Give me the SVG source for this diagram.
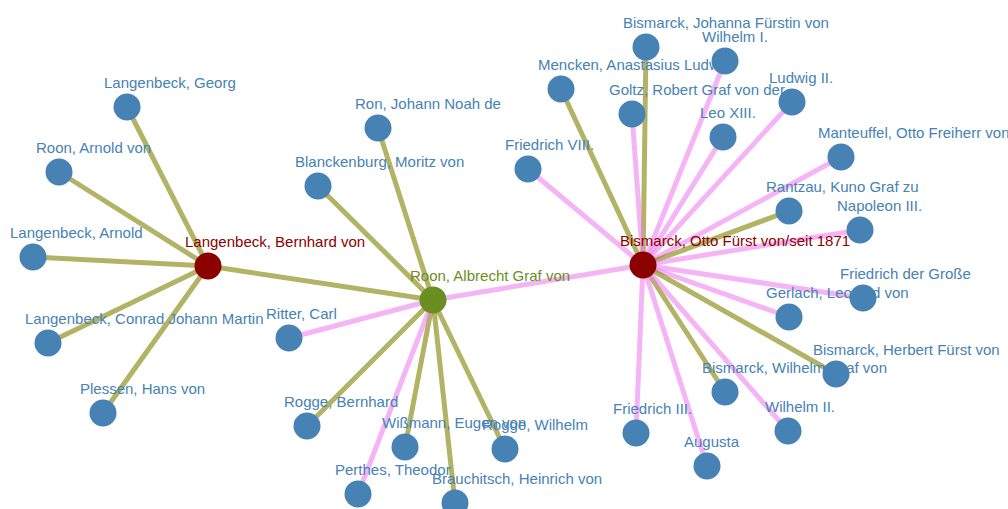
<svg xmlns="http://www.w3.org/2000/svg" width="1008" height="509" viewBox="0 0 1008 509">
<style>
.e{stroke-width:5;stroke-opacity:0.6;fill:none}
.o{stroke:#808000}
.p{stroke:#EE82EE}
circle{r:13.5}
.n circle{fill:#4682B4}
text{font-family:"Liberation Sans",Arial,sans-serif;font-size:15px;fill:#4682B4}
.hr circle{fill:#8B0000}
.hr text{fill:#8B0000}
.hg circle{fill:#6B8E23}
.hg text{fill:#6B8E23}
</style>
<rect width="1008" height="509" fill="#fff"/>
<g id="connectors">
<line class="e o" x1="208" y1="266" x2="127" y2="107"/>
<line class="e o" x1="208" y1="266" x2="59" y2="172"/>
<line class="e o" x1="208" y1="266" x2="33" y2="257"/>
<line class="e o" x1="208" y1="266" x2="48" y2="343"/>
<line class="e o" x1="208" y1="266" x2="103" y2="413"/>
<line class="e o" x1="208" y1="266" x2="433" y2="300"/>
<line class="e o" x1="433" y1="300" x2="378" y2="128"/>
<line class="e o" x1="433" y1="300" x2="318" y2="186"/>
<line class="e p" x1="433" y1="300" x2="289" y2="338"/>
<line class="e o" x1="433" y1="300" x2="307" y2="426"/>
<line class="e o" x1="433" y1="300" x2="405" y2="447"/>
<line class="e o" x1="433" y1="300" x2="505" y2="449"/>
<line class="e p" x1="433" y1="300" x2="358" y2="494"/>
<line class="e o" x1="433" y1="300" x2="455" y2="503"/>
<line class="e p" x1="433" y1="300" x2="643" y2="265"/>
<line class="e o" x1="643" y1="265" x2="646" y2="47"/>
<line class="e p" x1="643" y1="265" x2="725" y2="61"/>
<line class="e o" x1="643" y1="265" x2="561" y2="89"/>
<line class="e p" x1="643" y1="265" x2="632" y2="114"/>
<line class="e p" x1="643" y1="265" x2="723" y2="137"/>
<line class="e p" x1="643" y1="265" x2="792" y2="102"/>
<line class="e p" x1="643" y1="265" x2="841" y2="157"/>
<line class="e p" x1="643" y1="265" x2="528" y2="169"/>
<line class="e o" x1="643" y1="265" x2="789" y2="211"/>
<line class="e p" x1="643" y1="265" x2="860" y2="230"/>
<line class="e p" x1="643" y1="265" x2="863" y2="298"/>
<line class="e p" x1="643" y1="265" x2="789" y2="317"/>
<line class="e o" x1="643" y1="265" x2="836" y2="374"/>
<line class="e o" x1="643" y1="265" x2="725" y2="392"/>
<line class="e p" x1="643" y1="265" x2="636" y2="433"/>
<line class="e p" x1="643" y1="265" x2="788" y2="431"/>
<line class="e p" x1="643" y1="265" x2="707" y2="466"/>
</g>
<g id="n-langenbeck-georg" class="n" transform="translate(127,107)"><circle/><text x="-23" y="-19">Langenbeck, Georg</text></g>
<g id="n-roon-arnold" class="n" transform="translate(59,172)"><circle/><text x="-23" y="-19">Roon, Arnold von</text></g>
<g id="n-langenbeck-arnold" class="n" transform="translate(33,257)"><circle/><text x="-23" y="-19">Langenbeck, Arnold</text></g>
<g id="n-langenbeck-conrad" class="n" transform="translate(48,343)"><circle/><text x="-23" y="-19">Langenbeck, Conrad Johann Martin</text></g>
<g id="n-plessen" class="n" transform="translate(103,413)"><circle/><text x="-23" y="-19">Plessen, Hans von</text></g>
<g id="n-ron-johann" class="n" transform="translate(378,128)"><circle/><text x="-23" y="-19">Ron, Johann Noah de</text></g>
<g id="n-blanckenburg" class="n" transform="translate(318,186)"><circle/><text x="-23" y="-19">Blanckenburg, Moritz von</text></g>
<g id="n-ritter" class="n" transform="translate(289,338)"><circle/><text x="-23" y="-19">Ritter, Carl</text></g>
<g id="n-rogge-bernhard" class="n" transform="translate(307,426)"><circle/><text x="-23" y="-19">Rogge, Bernhard</text></g>
<g id="n-wissmann" class="n" transform="translate(405,447)"><circle/><text x="-23" y="-19">Wißmann, Eugen von</text></g>
<g id="n-rogge-wilhelm" class="n" transform="translate(505,449)"><circle/><text x="-23" y="-19">Rogge, Wilhelm</text></g>
<g id="n-perthes" class="n" transform="translate(358,494)"><circle/><text x="-23" y="-19">Perthes, Theodor</text></g>
<g id="n-brauchitsch" class="n" transform="translate(455,503)"><circle/><text x="-23" y="-19">Brauchitsch, Heinrich von</text></g>
<g id="n-mencken" class="n" transform="translate(561,89)"><circle/><text x="-23" y="-19">Mencken, Anastasius Ludwig</text></g>
<g id="n-johanna" class="n" transform="translate(646,47)"><circle/><text x="-23" y="-19">Bismarck, Johanna Fürstin von</text></g>
<g id="n-wilhelm-1" class="n" transform="translate(725,61)"><circle/><text x="-23" y="-19">Wilhelm I.</text></g>
<g id="n-goltz" class="n" transform="translate(632,114)"><circle/><text x="-23" y="-19">Goltz, Robert Graf von der</text></g>
<g id="n-ludwig-2" class="n" transform="translate(792,102)"><circle/><text x="-23" y="-19">Ludwig II.</text></g>
<g id="n-leo-13" class="n" transform="translate(723,137)"><circle/><text x="-23" y="-19">Leo XIII.</text></g>
<g id="n-manteuffel" class="n" transform="translate(841,157)"><circle/><text x="-23" y="-19">Manteuffel, Otto Freiherr von</text></g>
<g id="n-friedrich-8" class="n" transform="translate(528,169)"><circle/><text x="-23" y="-19">Friedrich VIII.</text></g>
<g id="n-rantzau" class="n" transform="translate(789,211)"><circle/><text x="-23" y="-19">Rantzau, Kuno Graf zu</text></g>
<g id="n-napoleon-3" class="n" transform="translate(860,230)"><circle/><text x="-23" y="-19">Napoleon III.</text></g>
<g id="n-gerlach" class="n" transform="translate(789,317)"><circle/><text x="-23" y="-19">Gerlach, Leopold von</text></g>
<g id="n-friedrich-gr" class="n" transform="translate(863,298)"><circle/><text x="-23" y="-19">Friedrich der Große</text></g>
<g id="n-bismarck-wilhelm" class="n" transform="translate(725,392)"><circle/><text x="-23" y="-19">Bismarck, Wilhelm Graf von</text></g>
<g id="n-bismarck-herbert" class="n" transform="translate(836,374)"><circle/><text x="-23" y="-19">Bismarck, Herbert Fürst von</text></g>
<g id="n-friedrich-3" class="n" transform="translate(636,433)"><circle/><text x="-23" y="-19">Friedrich III.</text></g>
<g id="n-wilhelm-2" class="n" transform="translate(788,431)"><circle/><text x="-23" y="-19">Wilhelm II.</text></g>
<g id="n-augusta" class="n" transform="translate(707,466)"><circle/><text x="-23" y="-19">Augusta</text></g>
<g id="n-langenbeck-bernhard" class="hr" transform="translate(208,266)"><circle/><text x="-23" y="-19">Langenbeck, Bernhard von</text></g>
<g id="n-roon-albrecht" class="hg" transform="translate(433,300)"><circle/><text x="-23" y="-19">Roon, Albrecht Graf von</text></g>
<g id="n-bismarck-otto" class="hr" transform="translate(643,265)"><circle/><text x="-23" y="-19">Bismarck, Otto Fürst von/seit 1871</text></g>
</svg>
